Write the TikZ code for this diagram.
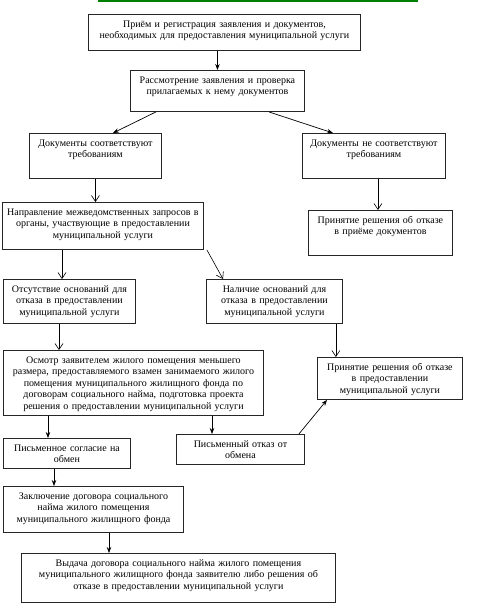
\documentclass[tikz,border=0pt]{standalone}
\usepackage{fontspec}
\setmainfont{Liberation Serif}
\usepackage{xcolor}
\usepackage{tikz}
\usetikzlibrary{arrows.meta}
\definecolor{linegreen}{RGB}{0,128,0}
\tikzstyle{blok}=[rectangle,draw=black!85,line width=0.9pt,anchor=north west,align=center,inner xsep=2pt,inner ysep=4pt,text height=9pt,font=\fontsize{10}{11.5}\selectfont]
\tikzstyle{pil}=[-{Stealth[length=6pt,width=4.5pt]},line width=0.7pt]
\tikzstyle{vpil}=[-{Straight Barb[length=6pt,width=8pt]},line width=0.6pt]

\begin{document}
\begin{tikzpicture}[x=1pt,y=-1pt]
        \useasboundingbox (0,0) rectangle (482,614);
        \draw [linegreen,line width=1.5pt] (98,1) -- (418,1);

        \node at (88,14)  [blok,text width=268pt,text depth=19pt] (priem) {Приём и регистрация заявления и документов,\\ необходимых для предоставления муниципальной услуги};
        \node at (130,70) [blok,text width=170pt,text depth=24pt] (rassm) {Рассмотрение заявления и проверка\\ прилагаемых к нему документов};
        \node at (29,133) [blok,text width=128pt,text depth=28pt] (sootv) {Документы соответствуют\\ требованиям};
        \node at (302,133) [blok,text width=139pt,text depth=28pt] (nesootv) {Документы не соответствуют\\ требованиям};
        \node at (2,202)  [blok,text width=197pt,text depth=30pt] (napr) {Направление межведомственных запросов в\\ органы, участвующие в предоставлении\\ муниципальной услуги};
        \node at (308,210) [blok,text width=140pt,text depth=28pt] (otkazpriem) {Принятие решения об отказе\\ в приёме документов};
        \node at (3,279)  [blok,text width=128pt,text depth=27pt] (otsut) {Отсутствие оснований для\\ отказа в предоставлении\\ муниципальной услуги};
        \node at (206,279) [blok,text width=132pt,text depth=27pt] (nalich) {Наличие оснований для\\ отказа в предоставлении\\ муниципальной услуги};
        \node at (3,350)  [blok,text width=256pt,text depth=48pt] (osmotr) {Осмотр заявителем жилого помещения меньшего\\ размера, предоставляемого взамен занимаемого жилого\\ помещения муниципального жилищного фонда по\\ договорам социального найма, подготовка проекта\\ решения о предоставлении муниципальной услуги};
        \node at (317,357) [blok,text width=141pt,text depth=25pt] (otkazusl) {Принятие решения об отказе\\ в предоставлении\\ муниципальной услуги};
        \node at (176,434) [blok,text width=124pt,text depth=13pt] (otkazobm) {Письменный отказ от\\ обмена};
        \node at (3,438)  [blok,text width=123pt,text depth=13pt] (soglas) {Письменное согласие на\\ обмен};
        \node at (3,486)  [blok,text width=176pt,text depth=29pt] (zakl) {Заключение договора социального\\ найма жилого помещения\\ муниципального жилищного фонда};
        \node at (21,553) [blok,text width=310pt,text depth=32pt] (vydacha) {Выдача договора социального найма жилого помещения\\ муниципального жилищного фонда заявителю либо решения об\\ отказе в предоставлении муниципальной услуги};

        \draw [pil]  (priem.south -| rassm.north) -- (rassm.north);
        \draw [pil]  ([xshift=26]rassm.south west) -- ([xshift=84]sootv.north west);
        \draw [pil]  ([xshift=-36]rassm.south east) -- ([xshift=31]nesootv.north west);
        \draw [vpil] (sootv.south) -- (sootv.south |- napr.north);
        \draw [vpil] ([xshift=4]nesootv.south) -- ([xshift=4]nesootv.south |- otkazpriem.north);
        \draw [vpil] ([xshift=60]napr.south west) -- ([xshift=60]napr.south west |- otsut.north);
        \draw [vpil] ([xshift=3]napr.south east) -- ([xshift=17]nalich.north west);
        \draw [vpil] ([xshift=56]otsut.south west) -- ([xshift=56]otsut.south west |- osmotr.north);
        \draw [vpil] ([xshift=-7]nalich.south east) -- ([xshift=-7]nalich.south east |- otkazusl.north);
        \draw [pil]  ([xshift=45]osmotr.south west) -- ([xshift=45]osmotr.south west |- soglas.north);
        \draw [pil]  ([xshift=209]osmotr.south west) -- ([xshift=209]osmotr.south west |- otkazobm.north);
        \draw [pil]  ([xshift=-6]otkazobm.north east) -- ([xshift=10]otkazusl.south west);
        \draw [pil]  ([xshift=51]soglas.south west) -- ([xshift=51]soglas.south west |- zakl.north);
        \draw [pil]  ([xshift=106]zakl.south west) -- ([xshift=106]zakl.south west |- vydacha.north);
      \end{tikzpicture}
\end{document}
